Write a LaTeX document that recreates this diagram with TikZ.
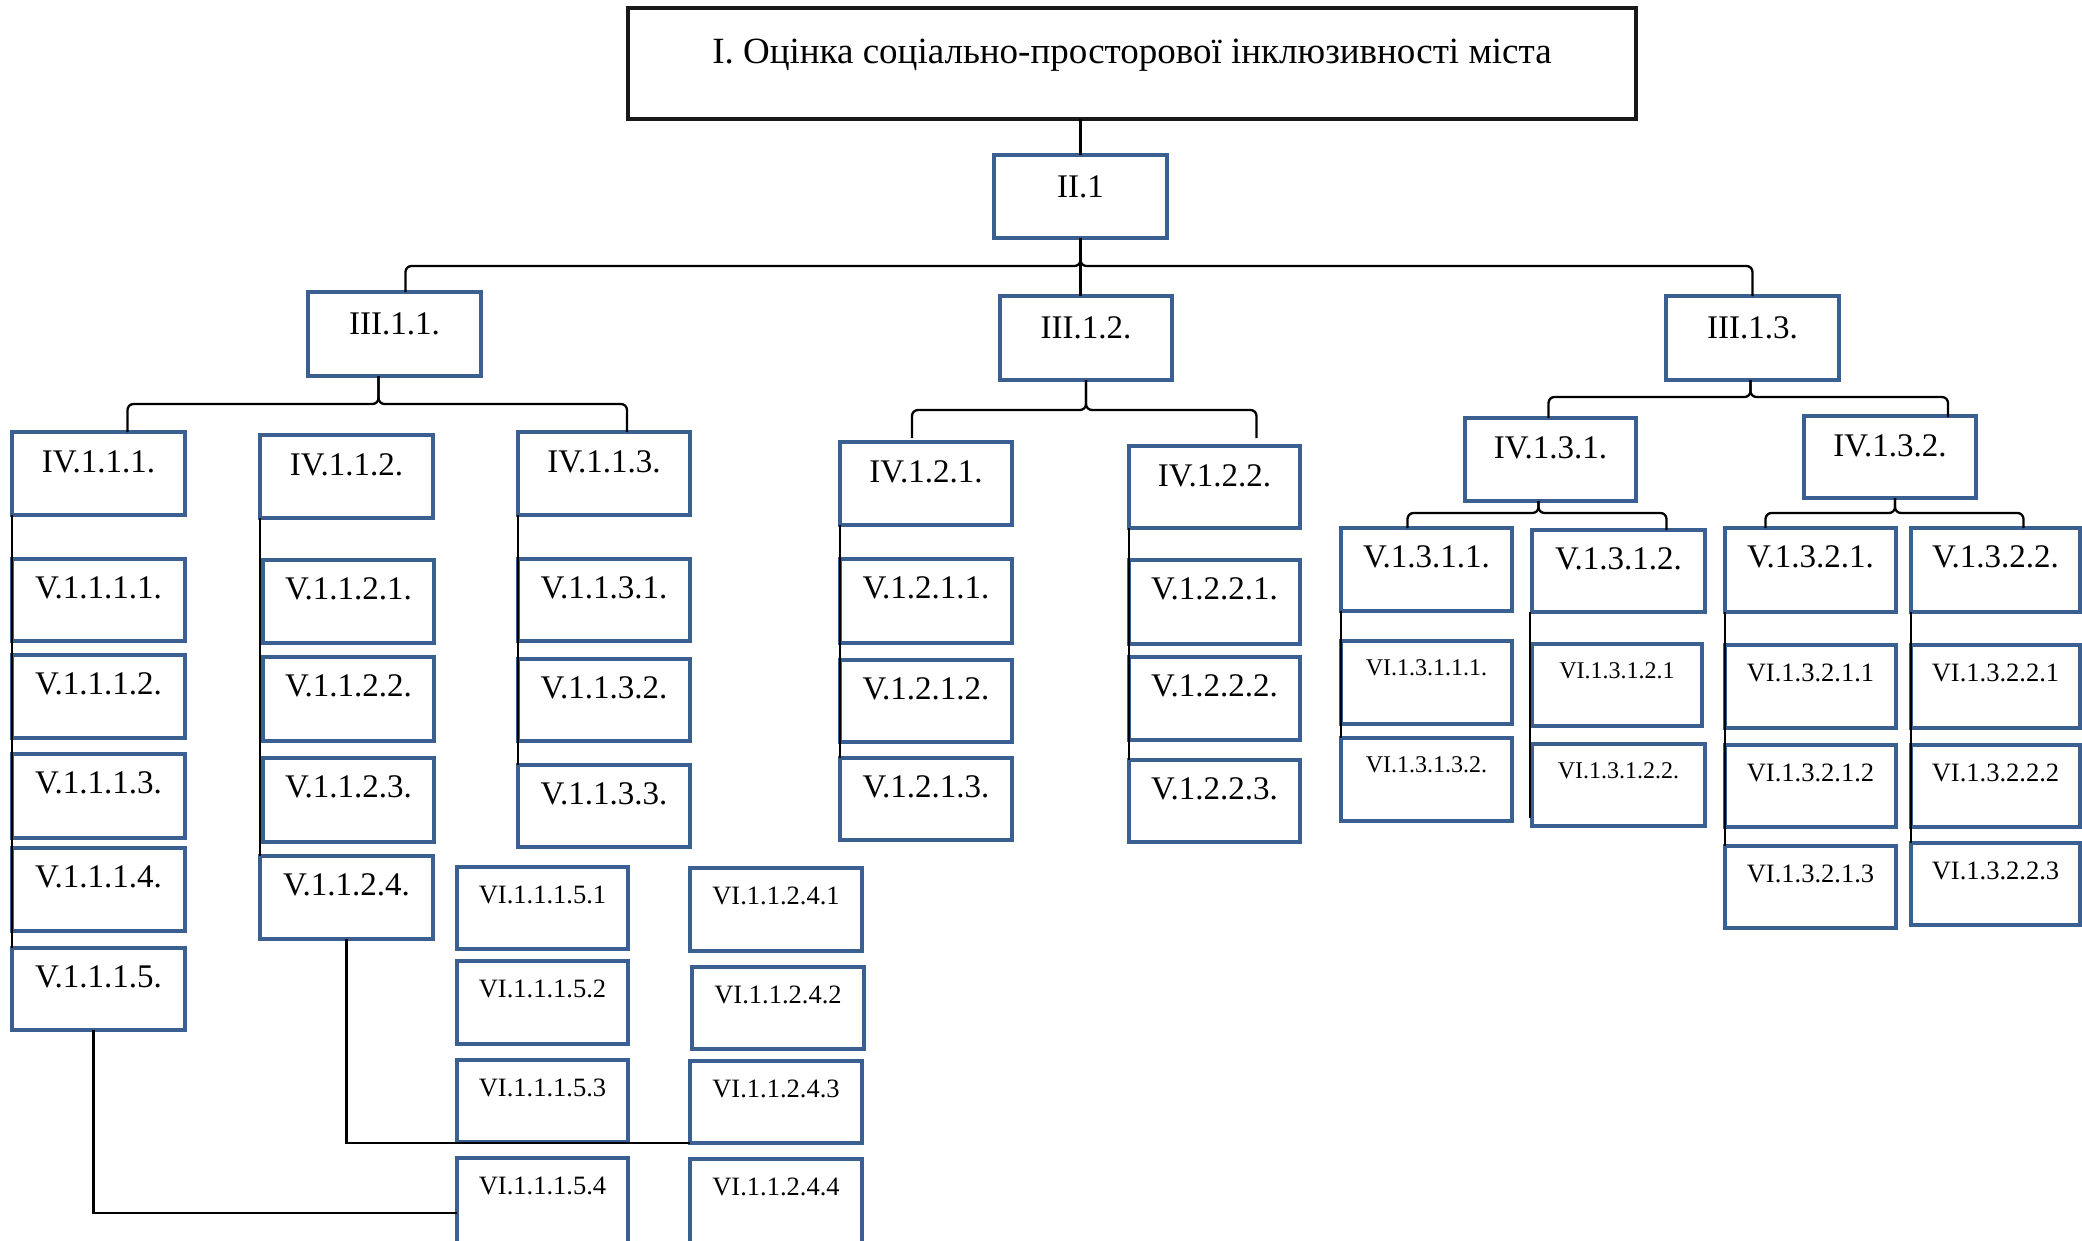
\documentclass[tikz,border=0pt]{standalone}
\usepackage{fontspec}
\setmainfont{Liberation Serif}
\definecolor{boxblue}{RGB}{58,96,146}
\newcommand\bx[8]{%
\pgfmathsetmacro\bw{#4-#2}\pgfmathsetmacro\bh{#5-#3}\pgfmathsetmacro\bd{#5-#3-#7}%
\node[#6, anchor=north west, minimum width=\bw pt, minimum height=\bh pt, text height=#7pt, text depth=\bd pt] (#1) at (#2pt,-#3pt) {#8};}
\tikzset{
  bxs/.style={draw=boxblue, line width=3.2pt, inner sep=0pt, outer sep=0pt, font=\fontsize{33}{37}\selectfont},
  vis/.style={bxs, font=\fontsize{26.5}{30}\selectfont},
  vism/.style={bxs, font=\fontsize{24}{28}\selectfont},
  ttl/.style={draw=black!90, line width=3.5pt, inner sep=0pt, outer sep=0pt, font=\fontsize{37}{42}\selectfont},
  conn/.style={draw=black, line width=2.3pt},
  brc/.style={conn, rounded corners=6pt}
}
\begin{document}
\begin{tikzpicture}
\path[use as bounding box, fill=white] (0,0) rectangle (2082pt,-1240pt);
% title and upper levels
\bx{ttl}{628}{8}{1636}{119}{ttl}{55}{І. Оцінка соціально-просторової інклюзивності міста}
\bx{ii1}{994}{155}{1167}{238}{bxs}{42}{II.1}
\bx{iii11}{308}{292}{481}{376}{bxs}{42}{III.1.1.}
\bx{iii12}{1000}{296}{1172}{380}{bxs}{42}{III.1.2.}
\bx{iii13}{1666}{296}{1839}{380}{bxs}{42}{III.1.3.}
% III.1.1 branch
\bx{iv111}{12}{432}{185}{515}{bxs}{40}{IV.1.1.1.}
\bx{iv112}{260}{435}{433}{518}{bxs}{40}{IV.1.1.2.}
\bx{iv113}{518}{432}{690}{515}{bxs}{40}{IV.1.1.3.}
\bx{v1111}{12}{559}{185}{641}{bxs}{39}{V.1.1.1.1.}
\bx{v1112}{12}{655}{185}{738}{bxs}{39}{V.1.1.1.2.}
\bx{v1113}{12}{754}{185}{838}{bxs}{39}{V.1.1.1.3.}
\bx{v1114}{12}{848}{185}{931}{bxs}{39}{V.1.1.1.4.}
\bx{v1115}{12}{948}{185}{1030}{bxs}{39}{V.1.1.1.5.}
\bx{v1121}{263}{560}{434}{643}{bxs}{39}{V.1.1.2.1.}
\bx{v1122}{263}{657}{434}{741}{bxs}{39}{V.1.1.2.2.}
\bx{v1123}{263}{758}{434}{842}{bxs}{39}{V.1.1.2.3.}
\bx{v1124}{260}{856}{433}{939}{bxs}{39}{V.1.1.2.4.}
\bx{v1131}{518}{559}{690}{641}{bxs}{39}{V.1.1.3.1.}
\bx{v1132}{518}{659}{690}{741}{bxs}{39}{V.1.1.3.2.}
\bx{v1133}{518}{765}{690}{847}{bxs}{39}{V.1.1.3.3.}
\bx{vi5a}{457}{867}{628}{949}{vis}{36}{VI.1.1.1.5.1}
\bx{vi5b}{457}{961}{628}{1044}{vis}{36}{VI.1.1.1.5.2}
\bx{vi5c}{457}{1060}{628}{1142}{vis}{36}{VI.1.1.1.5.3}
\bx{vi5d}{457}{1158}{628}{1244}{vis}{36}{VI.1.1.1.5.4}
\bx{vi4a}{690}{868}{862}{951}{vis}{36}{VI.1.1.2.4.1}
\bx{vi4b}{692}{967}{864}{1049}{vis}{36}{VI.1.1.2.4.2}
\bx{vi4c}{690}{1061}{862}{1143}{vis}{36}{VI.1.1.2.4.3}
\bx{vi4d}{690}{1159}{862}{1244}{vis}{36}{VI.1.1.2.4.4}
% III.1.2 branch
\bx{iv121}{840}{442}{1012}{525}{bxs}{40}{IV.1.2.1.}
\bx{iv122}{1129}{446}{1300}{528}{bxs}{40}{IV.1.2.2.}
\bx{v1211}{840}{559}{1012}{643}{bxs}{39}{V.1.2.1.1.}
\bx{v1212}{840}{660}{1012}{742}{bxs}{39}{V.1.2.1.2.}
\bx{v1213}{840}{758}{1012}{840}{bxs}{39}{V.1.2.1.3.}
\bx{v1221}{1129}{560}{1300}{644}{bxs}{39}{V.1.2.2.1.}
\bx{v1222}{1129}{657}{1300}{740}{bxs}{39}{V.1.2.2.2.}
\bx{v1223}{1129}{760}{1300}{842}{bxs}{39}{V.1.2.2.3.}
% III.1.3 branch
\bx{iv131}{1465}{418}{1636}{501}{bxs}{40}{IV.1.3.1.}
\bx{iv132}{1804}{416}{1976}{498}{bxs}{40}{IV.1.3.2.}
\bx{v1311}{1341}{528}{1512}{611}{bxs}{39}{V.1.3.1.1.}
\bx{v1312}{1532}{530}{1705}{612}{bxs}{39}{V.1.3.1.2.}
\bx{vi13111}{1341}{641}{1512}{724}{vism}{34}{VI.1.3.1.1.1.}
\bx{vi13132}{1341}{738}{1512}{821}{vism}{34}{VI.1.3.1.3.2.}
\bx{vi13121}{1532}{644}{1702}{726}{vism}{34}{VI.1.3.1.2.1}
\bx{vi13122}{1532}{744}{1705}{826}{vism}{34}{VI.1.3.1.2.2.}
\bx{v1321}{1725}{528}{1896}{612}{bxs}{39}{V.1.3.2.1.}
\bx{v1322}{1911}{528}{2080}{612}{bxs}{39}{V.1.3.2.2.}
\bx{vi13211}{1725}{645}{1896}{728}{vis}{36}{VI.1.3.2.1.1}
\bx{vi13212}{1725}{745}{1896}{827}{vis}{36}{VI.1.3.2.1.2}
\bx{vi13213}{1725}{846}{1896}{928}{vis}{36}{VI.1.3.2.1.3}
\bx{vi13221}{1911}{645}{2080}{728}{vis}{36}{VI.1.3.2.2.1}
\bx{vi13222}{1911}{745}{2080}{827}{vis}{36}{VI.1.3.2.2.2}
\bx{vi13223}{1911}{843}{2080}{925}{vis}{36}{VI.1.3.2.2.3}
% connectors: top
\draw[conn] (ii1.north) -- (ii1.north |- ttl.south);
\draw[brc] ([xshift=11pt]iii11.north) |- ([yshift=-28pt]ii1.south) -- (ii1.south);
\draw[brc] (iii13.north) |- ([yshift=-28pt]ii1.south) -- (ii1.south);
\draw[conn] (ii1.south) -- (ii1.south |- iii12.north);
% III.1.1 bracket
\draw[brc] ([xshift=29pt]iv111.north) |- ([xshift=-16pt,yshift=-28pt]iii11.south) -- ([xshift=-16pt]iii11.south);
\draw[brc] ([xshift=23pt]iv113.north) |- ([xshift=-16pt,yshift=-28pt]iii11.south) -- ([xshift=-16pt]iii11.south);
% III.1.2 bracket
\draw[brc] ([xshift=-14pt,yshift=4pt]iv121.north) |- ([yshift=-30pt]iii12.south) -- (iii12.south);
\draw[brc] ([xshift=42pt,yshift=8pt]iv122.north) |- ([yshift=-30pt]iii12.south) -- (iii12.south);
% III.1.3 bracket
\draw[brc] ([xshift=-2pt]iv131.north) |- ([xshift=-2pt,yshift=-17pt]iii13.south) -- ([xshift=-2pt]iii13.south);
\draw[brc] ([xshift=58pt,yshift=-1pt]iv132.north) |- ([xshift=-2pt,yshift=-17pt]iii13.south) -- ([xshift=-2pt]iii13.south);
% IV.1.3.x brackets
\draw[brc] ([xshift=-19pt]v1311.north) |- ([xshift=-12pt,yshift=-12pt]iv131.south) -- ([xshift=-12pt]iv131.south);
\draw[brc] ([xshift=48pt]v1312.north) |- ([xshift=-12pt,yshift=-12pt]iv131.south) -- ([xshift=-12pt]iv131.south);
\draw[brc] ([xshift=-45pt]v1321.north) |- ([xshift=5pt,yshift=-15pt]iv132.south) -- ([xshift=5pt]iv132.south);
\draw[brc] ([xshift=28pt]v1322.north) |- ([xshift=5pt,yshift=-15pt]iv132.south) -- ([xshift=5pt]iv132.south);
% spines
\draw[conn] (iv111.south west) -- (v1115.north west);
\draw[conn] (iv112.south west) -- (v1124.north west);
\draw[conn] (iv113.south west) -- (v1133.north west);
\draw[conn] (iv121.south west) -- (v1213.north west);
\draw[conn] (iv122.south west) -- (v1223.north west);
\draw[conn] (v1311.south west) -- (vi13132.north west);
\draw[conn] ([xshift=-2pt]v1312.south west) -- ([xshift=-2pt,yshift=8pt]vi13122.south west);
\draw[conn] (v1321.south west) -- (vi13213.north west);
\draw[conn] (v1322.south west) -- (vi13223.north west);
% long connectors to level VI
\draw[conn] ([xshift=-5pt]v1115.south) |- ([yshift=-12pt]vi5d.west);
\draw[conn] (v1124.south) |- (vi4c.south west);
\end{tikzpicture}
\end{document}
